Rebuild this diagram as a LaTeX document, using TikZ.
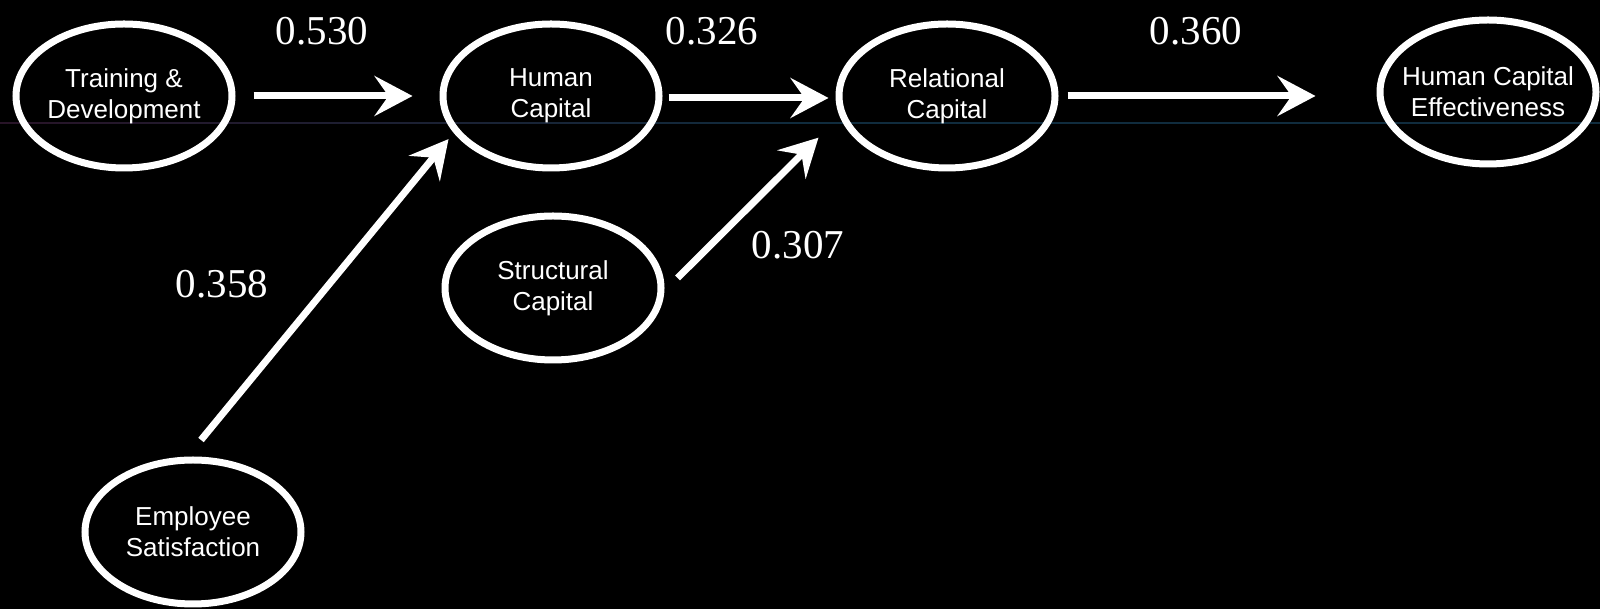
\documentclass[tikz,border=0pt]{standalone}
\usepackage{fontspec}
\setmainfont{Liberation Serif}
\setsansfont{Liberation Sans}
\usetikzlibrary{arrows.meta,shapes.geometric,calc}

\definecolor{rule}{RGB}{16,44,62}
\definecolor{ruleleft}{RGB}{40,20,40}

\begin{document}
\begin{tikzpicture}[x=1pt,y=1pt,
  construct/.style={ellipse, draw=white, line width=7pt, text=white,
    minimum width=216pt, minimum height=144pt, inner xsep=-20pt, inner ysep=0pt,
    align=center, font=\sffamily\fontsize{26}{31}\selectfont},
  path/.style={draw=white, line width=7pt, line cap=butt,
    -{Stealth[length=38pt,width=40pt,inset=14pt]}},
  coef/.style={text=white, inner sep=0pt, font=\rmfamily\fontsize{41}{48}\selectfont}]

  % canvas
  \fill[black] (0,0) rectangle (1600,609);
  \useasboundingbox (0,0) rectangle (1600,609);

  % thin rule across the slide
  \shade[left color=ruleleft, right color=rule, middle color=rule] (0,485.5) rectangle (1600,486.5);

  % constructs
  \node[construct] (T) at (124,513) {Training \&\\Development};
  \node[construct] (H) at (551,513) {Human\\Capital};
  \node[construct] (R) at (947,513) {Relational\\Capital};
  \node[construct] (E) at (1488,517) {Human Capital\\Effectiveness};
  \node[construct] (S) at (553,321) {Structural\\Capital};
  \node[construct] (ES) at (193,77) {Employee\\Satisfaction};

  % paths between constructs
  \draw[path] ($(T.east)+(18,0)$) -- ($(H.west)+(-27,0)$);
  \draw[path] ($(H.east)+(6,-2)$) -- ($(R.west)+(-7,-2)$);
  \draw[path] ($(R.east)+(9,0)$) -- ($(E.west)+(-61,-4)$);
  \draw[path] ($(ES.north)+(8,16.5)$) -- ($(H.203)+(-8,-3)$);
  \draw[path] ($(S.east)+(13,10)$) -- ($(R.198)+(-28,-9)$);

  % path coefficients
  \node[coef] (c530) at (322,578) {0.530};
  \node[coef] (c326) at (712,578) {0.326};
  \node[coef] (c360) at (1196,578) {0.360};
  \node[coef] (c307) at (798,364) {0.307};
  \node[coef] (c358) at (222,325) {0.358};
\end{tikzpicture}
\end{document}
